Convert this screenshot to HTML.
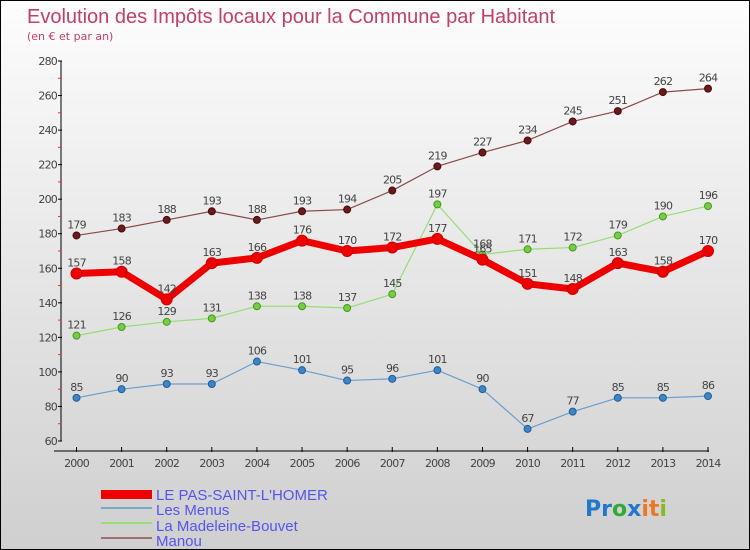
<!DOCTYPE html>
<html><head><meta charset="utf-8"><style>
body{margin:0}
#c{width:750px;height:550px;position:relative;box-sizing:border-box;border:1px solid #000;background:linear-gradient(#fdfdfd,#cfcfcf);font-family:"DejaVu Sans","Liberation Sans",sans-serif;overflow:hidden}
text{font-family:"DejaVu Sans","Liberation Sans",sans-serif}
</style></head><body>
<div id="c">
<svg id="s" width="750" height="550" xmlns="http://www.w3.org/2000/svg">
<text x="26" y="22" font-size="20" fill="#c0406a" style="font-family:'Liberation Sans',sans-serif">Evolution des Impôts locaux pour la Commune par Habitant</text>
<text x="26" y="39" font-size="11" fill="#c0406a">(en € et par an)</text>
<g id="axes"></g><g id="series"></g>
<g style="font-family:'Liberation Sans',sans-serif">
<rect x="100" y="489" width="51" height="9" fill="#ee0000"/>
<text x="155" y="499" font-size="15" fill="#5555ee" style="font-family:'Liberation Sans',sans-serif">LE PAS-SAINT-L'HOMER</text>
<rect x="100" y="506" width="51" height="2" fill="#7aa9cc"/>
<text x="155" y="514" font-size="15" fill="#5555ee" style="font-family:'Liberation Sans',sans-serif">Les Menus</text>
<rect x="100" y="521" width="51" height="2" fill="#99dd77"/>
<text x="155" y="530" font-size="15" fill="#5555ee" style="font-family:'Liberation Sans',sans-serif">La Madeleine-Bouvet</text>
<rect x="100" y="536" width="51" height="2" fill="#a07070"/>
<text x="155" y="545" font-size="15" fill="#5555ee" style="font-family:'Liberation Sans',sans-serif">Manou</text>
</g>
<g font-size="22" font-weight="bold">
<text x="584" y="515"><tspan fill="#2277cc">Pr</tspan><tspan fill="#33aa33">o</tspan><tspan fill="#2277cc">x</tspan><tspan fill="#ee7722">it</tspan><tspan fill="#88bb22">i</tspan></text>
</g>
</svg></div>
<script>
const years=[2000,2001,2002,2003,2004,2005,2006,2007,2008,2009,2010,2011,2012,2013,2014];
const yTicks=[60,80,100,120,140,160,180,200,220,240,260,280];
const pas=[157,158,142,163,166,176,170,172,177,165,151,148,163,158,170];
const menus=[85,90,93,93,106,101,95,96,101,90,67,77,85,85,86];
const madeleine=[121,126,129,131,138,138,137,145,197,168,171,172,179,190,196];
const manou=[179,183,188,193,188,193,194,205,219,227,234,245,251,262,264];
const NS="http://www.w3.org/2000/svg";
const X=i=>75.5+i*(707-75.5)/14;
const Y=v=>440-(v-60)*(380/220);
function mk(t,a,p){const e=document.createElementNS(NS,t);for(const k in a)e.setAttribute(k,a[k]);p.appendChild(e);return e;}
const ax=document.getElementById('axes');
const yl=mk('line',{x1:60,y1:60,x2:60,y2:440,stroke:'#000','stroke-width':1},ax);


yTicks.forEach(v=>{
 mk('line',{x1:57,x2:61,y1:Y(v),y2:Y(v),stroke:'#000'},ax);
 if(v<280) mk('line',{x1:57,x2:61,y1:Y(v+10),y2:Y(v+10),stroke:'#e33'},ax);
 const t=mk('text',{x:56,y:Y(v)+4,'text-anchor':'end','font-size':11,fill:'#444','letter-spacing':'-0.8'},ax);
 
 
 t.textContent=v;
});
const xl=mk('line',{x1:53,y1:450,x2:708,y2:450,stroke:'#000'},ax);


years.forEach((y,i)=>{
 mk('line',{x1:X(i),x2:X(i),y1:446,y2:451,stroke:'#000'},ax);
 const t=mk('text',{x:X(i),y:466,'text-anchor':'middle','font-size':11,fill:'#444','letter-spacing':'-0.8'},ax);
 
 
 t.textContent=y;
});
const sg=document.getElementById('series');
function series(vals,name,color,dot,dotStroke,w,r){
 const g=mk('g',{},sg);
 
 
 const l=mk('polyline',{points:vals.map((v,i)=>X(i)+','+Y(v)).join(' '),fill:'none',stroke:color,'stroke-width':w,'stroke-linejoin':'round'},g);
 
 
 vals.forEach((v,i)=>{
  const c=mk('circle',{cx:X(i),cy:Y(v),r:r,fill:dot,stroke:dotStroke,'stroke-width':1},g);
  
  
  const t=mk('text',{x:X(i),y:Y(v)-7,'text-anchor':'middle','font-size':11,fill:'#444','letter-spacing':'-0.8'},g);
  
  
  t.textContent=v;
 });
}
series(menus,'les-menus','#6a9fcc','#3d85c6','#1f5f99',1.2,3.5);
series(madeleine,'la-madeleine-bouvet','#99dd77','#77cc44','#449922',1.2,3.5);
series(manou,'manou','#8a4a4a','#6a1a1a','#4a0a0a',1.2,3.5);
series(pas,'le-pas-saint-lhomer','#ee0000','#ee0000','#cc0000',7,5.5);
</script>
</body></html>
